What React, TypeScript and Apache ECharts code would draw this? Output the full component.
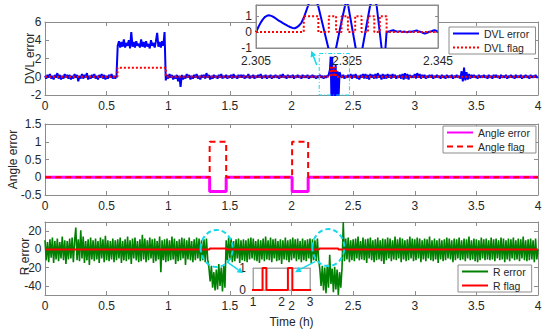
import React, { useEffect, useRef } from "react";
import * as echarts from "echarts";

// sampling step of the long records (hours)
const STEP = 0.01;

// DVL error, one value every 0.01 h from 0 to 4 h
const dvlError: number[] = [
  0.1,-0.2,0.2,-0.1,0.3,-0.2,0.1,-0.3,0.2,-0.1,0.4,-0.2,0.2,-0.3,0.1,-0.2,0.3,-0.1,0.2,-0.2,
  0.2,-0.3,0.1,-0.2,0.3,-0.1,0.2,-0.5,0.1,-0.2,0.3,-0.2,0.2,-0.1,0.4,-0.3,0.1,-0.2,0.2,-0.1,
  0.3,-0.2,0.1,-0.3,0.2,-0.1,0.3,-0.2,0.2,-0.3,0.1,-0.2,0.2,-0.1,0.3,-0.2,0.1,-0.2,0.1,3.4,
  3.9,3.2,3.8,3.3,4.1,3.2,3.7,3.4,4.0,3.1,4.9,3.3,3.8,3.2,3.9,3.4,3.6,3.2,4.1,3.3,
  3.8,3.2,3.9,3.3,3.6,3.1,4.0,3.4,3.7,3.2,3.9,4.8,3.3,3.8,3.2,3.9,3.4,4.9,-0.4,0.2,
  -0.2,0.3,-0.1,0.2,-0.3,0.1,-0.2,0.2,-0.5,0.1,-1.1,0.2,-0.3,0.1,-0.2,0.3,-0.1,0.2,-0.3,0.1,
  -0.2,0.2,-0.1,0.3,-0.2,0.1,-0.3,0.2,-0.1,0.2,-0.2,0.4,-0.1,0.2,-0.3,0.1,-0.2,0.2,-0.1,0.1,
  -0.2,0.2,-0.1,0.3,-0.2,0.1,-0.1,0.2,-0.2,0.1,-0.1,0.2,-0.2,0.3,-0.1,0.1,-0.2,0.2,-0.1,0.2,
  -0.1,0.2,-0.2,0.1,-0.1,0.3,-0.2,0.1,-0.1,0.2,-0.2,0.1,-0.1,0.2,-0.1,0.3,-0.2,0.1,-0.1,0.2,
  -0.2,0.1,-0.1,0.2,-0.2,0.1,-0.1,0.2,-0.1,0.1,-0.2,0.2,-0.1,0.3,-0.1,0.1,-0.2,0.2,-0.1,0.1,
  -0.1,0.2,-0.2,0.1,-0.1,0.2,-0.1,0.1,-0.2,0.2,-0.1,0.1,-0.1,0.2,-0.2,0.1,-0.1,0.2,-0.1,0.1,
  -0.2,0.1,-0.1,0.2,-0.1,0.1,-0.2,0.1,-0.1,0.1,0.1,0.1,0.1,0.1,0.1,0.1,0.1,0.1,0.1,0.1,
  0.1,-0.1,0.2,-0.2,0.1,-0.1,0.2,-0.1,0.3,-0.2,0.2,-0.1,0.3,-0.2,0.1,-0.3,0.2,-0.1,0.3,-0.2,
  0.3,-0.2,0.2,-0.3,0.3,-0.1,0.2,-0.2,0.3,-0.2,0.4,-0.1,0.2,-0.3,0.3,-0.2,0.2,-0.2,0.3,-0.1,
  0.2,-0.2,0.3,-0.1,0.2,-0.2,0.1,-0.1,0.2,-0.2,0.3,-0.3,0.4,-0.2,0.3,-0.3,0.2,-0.1,0.1,-0.1,
  0.3,-0.2,0.4,-0.1,0.3,-0.2,0.2,-0.1,0.2,-0.2,0.1,-0.1,0.2,-0.1,0.2,-0.2,0.1,-0.1,0.2,-0.1,
  0.1,-0.2,0.2,-0.1,0.1,-0.2,0.2,-0.1,0.1,-0.1,0.2,-0.2,0.1,-0.1,0.2,-0.1,0.1,-0.2,0.6,-0.5,
  1.0,-0.4,0.5,-0.3,0.3,-0.2,0.2,-0.1,0.2,-0.1,0.1,-0.2,0.2,-0.1,0.1,-0.1,0.2,-0.1,0.1,-0.2,
  0.2,-0.1,0.1,-0.2,0.2,-0.1,0.2,-0.1,0.1,-0.2,0.2,-0.1,0.1,-0.1,0.2,-0.2,0.1,-0.1,0.2,-0.1,
  0.1,-0.2,0.2,-0.1,0.1,-0.1,0.2,-0.2,0.1,-0.1,0.2,-0.1,0.1,-0.2,0.2,-0.1,0.1,-0.1,0.2,-0.1,
  0.0,
];
// the burst near 2.3 h that replaces the coarse samples there
const dvlBurstT = [2.3, 2.312, 2.318, 2.324, 2.33, 2.336, 2.344, 2.352, 2.358, 2.366, 2.374, 2.382, 2.39, 2.4];
const dvlBurstV = [0.1, 0.8, 2.2, -2.4, 2.2, -2.4, 1.0, -2.4, 1.3, -2.3, 0.6, -2.2, 0.5, 0.1];

const dvlFlagT = [0, 0.588, 0.98, 2.315, 2.325, 2.33, 2.345, 2.35, 2.36, 4];
const dvlFlagV = [0, 1, 0, 1, 0, 1, 0, 1, 0, 0];

// zoomed DVL record (inset)
const zoomT = [
  2.305, 2.3055, 2.306, 2.3065, 2.307, 2.3075, 2.308, 2.3085, 2.309, 2.3095, 2.31, 2.3105, 2.311, 2.3115,
  2.312, 2.3125, 2.313, 2.3135, 2.314, 2.3145, 2.315, 2.3155, 2.316, 2.3165, 2.3172, 2.318, 2.3187, 2.3198,
  2.3209, 2.3217, 2.3226, 2.3236, 2.3246, 2.3249, 2.3253, 2.3269, 2.3276, 2.3284, 2.3301, 2.3308, 2.3315,
  2.3326, 2.3333, 2.3337, 2.3342, 2.3347, 2.3352, 2.3357, 2.3362, 2.3367, 2.3372, 2.3377, 2.3382, 2.3387,
  2.3392, 2.3397, 2.3403, 2.3408, 2.3413, 2.3418, 2.3421, 2.3426, 2.3431, 2.3436, 2.344, 2.3443, 2.3447, 2.345,
];
const zoomV = [
  0.0, 0.3, 0.58, 0.8, 0.96, 1.04, 1.05, 1.0, 0.92, 0.82, 0.72, 0.64, 0.55, 0.47,
  0.39, 0.32, 0.26, 0.24, 0.3, 0.42, 0.6, 0.9, 1.3, 1.7, 2.2, 2.2, 1.6, 0.3,
  -1.0, -1.5, -1.0, 0.4, 1.7, 2.0, 1.6, -1.0, -1.4, -1.0, 1.7, 2.1, 1.7,
  -1.0, -1.6, 0.0, 0.03, 0.08, 0.12, 0.05, 0.02, 0.06, 0.0, 0.03, -0.02, 0.04,
  0.02, 0.06, 0.1, 0.03, 0.0, -0.06, -0.1, -0.04, 0.02, 0.05, 0.1, 0.12, 0.06, 0.04,
];
const zoomFlagT = [2.305, 2.3155, 2.3187, 2.321, 2.3226, 2.3238, 2.3252, 2.3268, 2.3282, 2.3296, 2.331, 2.3322, 2.3337, 2.345];
const zoomFlagV = [0, 1, 0, 1, 0, 1, 0, 1, 0, 1, 0, 1, 0, 0];

// Angle error and flag
const angleT = [0, 1.336, 1.336, 1.47, 1.47, 2.005, 2.005, 2.135, 2.135, 4];
const angleV = [0, 0, -0.4, -0.4, 0, 0, -0.4, -0.4, 0, 0];
const angleFlagT = [0, 1.336, 1.47, 2.005, 2.135, 4];
const angleFlagV = [0, 1, 0, 1, 0, 0];

// R error, one value every 0.01 h
const rError: number[] = [
  10,-12,8,-14,11,-9,13,-15,9,-11,12,-13,8,-10,14,-12,10,-16,9,-11,
  12,-10,13,-14,9,24,-12,11,-13,21,-10,14,-15,9,-12,11,-17,13,-11,10,
  -13,12,-11,9,-15,13,-10,11,-14,15,-12,10,-13,9,-11,12,-14,10,-12,11,
  -10,13,-15,9,-12,11,-13,14,-11,10,-16,12,-10,13,-12,9,-14,11,-13,16,
  -11,12,-14,10,-12,13,-10,11,-15,12,-13,9,-11,14,-25,10,-12,11,-14,12,
  -13,10,-12,14,-11,12,-16,9,-13,11,-12,13,-10,12,-17,10,-11,13,-12,9,
  -14,11,-12,13,-10,12,-13,10,-12,11,-14,12,-11,-20,-35,-18,-42,-25,-45,-22,
  -44,-16,-40,-20,-46,-18,-42,10,-12,13,-11,12,-14,9,-13,11,-10,12,-15,10,
  -12,11,-13,10,-14,12,-11,13,-10,12,-12,9,-13,11,-15,10,-11,12,-13,14,
  -11,10,-12,13,-14,11,-10,12,-13,9,-12,11,-16,10,-11,13,-12,10,-14,11,
  -12,13,-10,11,-13,12,-11,9,-14,12,-12,10,-13,11,-10,12,-15,11,-12,10,
  -13,12,-11,-22,-40,-18,-45,-20,-48,-17,-42,-6,-38,-21,-47,-19,-44,-22,-50,-25,
  -42,-20,30,-13,12,-11,13,-14,10,-12,11,-13,12,-10,14,-12,9,-11,13,-12,
  11,-15,12,-10,13,-12,10,-14,11,-12,13,-11,10,-13,12,-16,11,-12,13,-10,
  12,-13,10,-11,14,-12,11,-10,13,-14,12,-11,10,-13,11,-12,14,-10,12,-13,
  11,-12,13,-10,12,-14,10,-11,12,-13,11,-10,14,-12,10,-13,12,-11,10,-15,
  12,-11,10,-13,11,-12,13,-10,12,-11,10,-14,12,-12,11,-10,13,-12,10,-11,
  12,-13,11,-10,14,-12,10,-11,12,-13,11,-14,10,-12,13,-10,11,-12,12,-11,
  10,-12,13,-11,11,-13,12,-10,10,-12,13,-11,12,-14,10,-11,12,-13,11,-10,
  13,-12,10,-11,12,-13,11,-10,14,-12,10,-13,11,-12,12,-11,10,-14,12,-11,
  0,
];
const rFlagT = [0, 1.335, 1.47, 2.225, 2.38, 4];
const rFlagV = [0, 1, 0, 1, 0, 0];

// y-axis titles of the three panels
const yTitles = ["DVL error", "Angle error", "R error"];

// annotation anchors in data units
const boxTop = { x0: 2.225, y0: 2.55, x1: 2.47, y1: -2 };
const arrowTop = { tail: [2.205, 1.28], head: [2.16, 2.85] };
const circles = [[1.393, 1], [2.299, 2]];
const arrowsR = [
  { tail: [1.474, -13.5], head: [1.609, -26.2] },
  { tail: [2.19, -13.5], head: [2.028, -25] },
];

const AX = "#8c8c8c";
const TXT = "#262626";
const FONT = "'Liberation Sans', Arial, Helvetica, sans-serif";
const CY = "#12d8ec";

// layout of the panels
const GRIDS = [
  { left: 45, top: 22, width: 493, height: 73 },
  { left: 45, top: 124, width: 493, height: 71 },
  { left: 45, top: 222, width: 493, height: 73 },
];
const TITLE_X = [30, 12.5, 24.5];
const TITLE_DY = [0, 0, -2];

const fmt = (v: number) => String(parseFloat(Number(v).toFixed(4)));

function axes(dim: "x" | "y", gridIndex: number, min: number, max: number, cfg: any) {
  const positions = dim === "x" ? ["bottom", "top"] : ["left", "right"];
  return positions.map((position, k) => {
    const a: any = {
      type: "value",
      gridIndex,
      min,
      max,
      position,
      axisLine: { show: true, onZero: false, lineStyle: { color: cfg.line || AX, width: 1 } },
      axisTick: { show: (cfg.tickLen ?? 4) > 0, inside: true, length: cfg.tickLen ?? 4, lineStyle: { color: cfg.line || AX } },
      axisLabel: { show: k === 0, color: TXT, fontSize: 12, fontFamily: FONT, margin: cfg.margin ?? 5, formatter: fmt },
      splitLine: { show: false },
      z: cfg.z ?? 0,
    };
    if (cfg.interval) a.interval = cfg.interval;
    if (cfg.ticks) {
      a.axisTick.customValues = cfg.ticks;
      a.axisLabel.customValues = cfg.ticks;
    }
    if (k === 0 && cfg.name) {
      a.name = cfg.name;
      a.nameLocation = "middle";
      a.nameGap = cfg.nameGap;
      a.nameMoveOverlap = false;
      a.nameTextStyle = { color: TXT, fontSize: 12, fontFamily: FONT };
    }
    return a;
  });
}

const pairs = (ts: number[], vs: number[]) => ts.map((t, i) => [t, vs[i]]);

function buildOption() {
  const burst = pairs(dvlBurstT, dvlBurstV);
  const dvlData = dvlError
    .map((v, i) => [parseFloat((i * STEP).toFixed(2)), v])
    .filter(([t]) => t < 2.295 || t > 2.405)
    .concat(burst)
    .sort((a, b) => a[0] - b[0]);
  const rData = rError.map((v, i) => [parseFloat((i * STEP).toFixed(2)), v]);

  const legendCommon = {
    orient: "vertical",
    itemWidth: 26,
    itemHeight: 12,
    itemGap: 3,
    padding: [1, 6, 1, 3],
    borderColor: AX,
    borderWidth: 1,
    borderRadius: 0,
    backgroundColor: "#fff",
    selectedMode: false,
    itemStyle: { opacity: 0 },
    textStyle: { fontSize: 10.5, color: TXT, fontFamily: FONT },
    z: 6,
  };

  return {
    animation: false,
    textStyle: { fontFamily: FONT },
    grid: [
      ...GRIDS,
      { left: 256, top: 5, width: 182, height: 43, show: true, backgroundColor: "#fff", borderColor: AX, borderWidth: 1, z: 10 },
      { left: 253, top: 268, width: 57, height: 22, show: true, backgroundColor: "#fff", borderColor: "#a6a6a6", borderWidth: 1, z: 10 },
    ],
    xAxis: [
      ...axes("x", 0, 0, 4, { interval: 0.5 }),
      ...axes("x", 1, 0, 4, { interval: 0.5 }),
      ...axes("x", 2, 0, 4, { interval: 0.5, name: "Time (h)", nameGap: 21 }),
      ...axes("x", 3, 2.305, 2.345, { ticks: [2.305, 2.325, 2.345], tickLen: 3, z: 12, margin: 7 }),
      ...axes("x", 4, 1, 3, { interval: 1, tickLen: 0, line: "#a6a6a6", z: 12, margin: 6 }),
    ],
    yAxis: [
      ...axes("y", 0, -2, 6, { interval: 2, margin: 3.5 }),
      ...axes("y", 1, -0.5, 1.5, { interval: 0.5, margin: 3.5 }),
      ...axes("y", 2, -50, 30, { ticks: [-40, -20, 0, 20], margin: 3.5 }),
      ...axes("y", 3, -1, 1.7, { ticks: [-1, 0, 1], tickLen: 3, z: 12, margin: 4 }),
      ...axes("y", 4, 0, 1, { ticks: [0, 1], tickLen: 0, line: "#a6a6a6", z: 12, margin: 7 }),
    ],
    legend: [
      { ...legendCommon, data: ["DVL error", "DVL flag"], left: 449, top: 27 },
      { ...legendCommon, data: ["Angle error", "Angle flag"], left: 443, top: 126 },
      { ...legendCommon, data: ["R error", "R flag"], left: 458, top: 265 },
    ],
    graphic: yTitles.map((t, i) => ({
      type: "text",
      x: TITLE_X[i],
      y: GRIDS[i].top + GRIDS[i].height / 2 + TITLE_DY[i],
      rotation: Math.PI / 2,
      style: {
        text: t, fill: TXT, font: `12px ${FONT}`,
        align: "center", verticalAlign: "middle",
        textAlign: "center", textVerticalAlign: "middle",
      },
    })),
    series: [
      {
        name: "DVL error", type: "line", xAxisIndex: 0, yAxisIndex: 0, data: dvlData,
        symbol: "none", lineStyle: { color: "#0000ff", width: 2 }, itemStyle: { color: "#0000ff" }, z: 2,
      },
      {
        name: "DVL flag", type: "line", step: "end", xAxisIndex: 0, yAxisIndex: 0, data: pairs(dvlFlagT, dvlFlagV),
        symbol: "none", lineStyle: { color: "#ff0000", width: 2, type: [2, 2] }, itemStyle: { color: "#ff0000" }, z: 3,
      },
      {
        name: "Angle error", type: "line", xAxisIndex: 2, yAxisIndex: 2, data: pairs(angleT, angleV),
        symbol: "none", lineStyle: { color: "#ff00ff", width: 3 }, itemStyle: { color: "#ff00ff" }, z: 2,
      },
      {
        name: "Angle flag", type: "line", step: "end", xAxisIndex: 2, yAxisIndex: 2, data: pairs(angleFlagT, angleFlagV),
        symbol: "none", lineStyle: { color: "#ff0000", width: 2, type: [6, 4] }, itemStyle: { color: "#ff0000" }, z: 3,
      },
      {
        name: "R error", type: "line", xAxisIndex: 4, yAxisIndex: 4, data: rData,
        symbol: "none", lineStyle: { color: "#008000", width: 1.6 }, itemStyle: { color: "#008000" }, z: 2,
      },
      {
        name: "R flag", type: "line", step: "end", xAxisIndex: 4, yAxisIndex: 4, data: pairs(rFlagT, rFlagV),
        symbol: "none", lineStyle: { color: "#ff0000", width: 2 }, itemStyle: { color: "#ff0000" }, z: 3,
      },
      {
        name: "DVL error zoom", type: "line", xAxisIndex: 6, yAxisIndex: 6, data: pairs(zoomT, zoomV),
        symbol: "none", lineStyle: { color: "#0000ff", width: 2 }, z: 11,
      },
      {
        name: "DVL flag zoom", type: "line", step: "end", xAxisIndex: 6, yAxisIndex: 6, data: pairs(zoomFlagT, zoomFlagV),
        symbol: "none", lineStyle: { color: "#ff0000", width: 2, type: [2, 2] }, z: 12,
      },
      {
        name: "R flag zoom", type: "line", step: "end", xAxisIndex: 8, yAxisIndex: 8, data: pairs(rFlagT, rFlagV),
        symbol: "none", lineStyle: { color: "#ff0000", width: 2 }, z: 13,
      },
    ],
  };
}

function arrow(chart: any, finder: any, tail: number[], head: number[]) {
  const a = chart.convertToPixel(finder, tail);
  const b = chart.convertToPixel(finder, head);
  const dx = b[0] - a[0];
  const dy = b[1] - a[1];
  const len = Math.hypot(dx, dy) || 1;
  const ux = dx / len, uy = dy / len;
  const L = 6, W = 3;
  const bx = b[0] - ux * L, by = b[1] - uy * L;
  return [
    { type: "line", z: 30, shape: { x1: a[0], y1: a[1], x2: bx, y2: by }, style: { stroke: CY, lineWidth: 1.5 } },
    {
      type: "polygon", z: 30,
      shape: { points: [[b[0], b[1]], [bx - uy * W, by + ux * W], [bx + uy * W, by - ux * W]] },
      style: { fill: CY },
    },
  ];
}

export default function App() {
  const ref = useRef<HTMLDivElement>(null);
  useEffect(() => {
    if (!ref.current) return;
    const chart = echarts.init(ref.current, undefined, { renderer: "svg" });
    const option: any = buildOption();
    const titles = option.graphic;
    delete option.graphic;
    chart.setOption(option);

    const f0 = { xAxisIndex: 0, yAxisIndex: 0 };
    const f2 = { xAxisIndex: 4, yAxisIndex: 4 };
    const p0 = chart.convertToPixel(f0 as any, [boxTop.x0, boxTop.y0]) as number[];
    const p1 = chart.convertToPixel(f0 as any, [boxTop.x1, boxTop.y1]) as number[];
    const graphics: any[] = [
      ...titles,
      {
        type: "rect", z: 30,
        shape: { x: p0[0], y: p0[1], width: p1[0] - p0[0], height: p1[1] - p0[1] },
        style: { fill: "none", stroke: CY, lineWidth: 1, lineDash: [4, 2, 1, 2] },
      },
      ...arrow(chart, f0, arrowTop.tail, arrowTop.head),
    ];
    circles.forEach((c) => {
      const p = chart.convertToPixel(f2 as any, c) as number[];
      graphics.push({
        type: "ellipse", z: 30,
        shape: { cx: p[0], cy: p[1], rx: 16, ry: 18.5 },
        style: { fill: "none", stroke: CY, lineWidth: 2, lineDash: [5, 3] },
      });
    });
    arrowsR.forEach((ar) => graphics.push(...arrow(chart, f2, ar.tail, ar.head)));
    chart.setOption({ graphic: graphics });

    return () => chart.dispose();
  }, []);
  return (
    <div
      ref={ref}
      style={{ position: "fixed", left: 0, top: 0, width: 550, height: 333, background: "#fff" }}
    />
  );
}
